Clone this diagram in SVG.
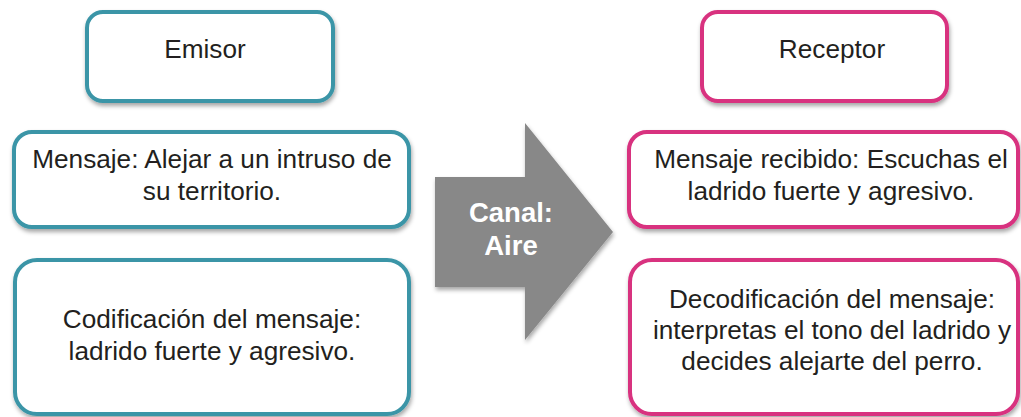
<svg xmlns="http://www.w3.org/2000/svg" width="1021" height="417" viewBox="0 0 1021 417">
<defs>
<filter id="sh" x="-10%" y="-10%" width="120%" height="130%">
<feDropShadow dx="1" dy="3" stdDeviation="2" flood-color="#000" flood-opacity="0.35"/>
</filter>
<style>
.box{fill:#fff;stroke-width:4;filter:url(#sh)}
.teal{stroke:#3A95A7}
.pink{stroke:#D8307F}
.t{font-family:"Liberation Sans",Arial,sans-serif;font-size:26.2px;fill:#231F20;text-anchor:middle}
.c{font-family:"Liberation Sans",Arial,sans-serif;font-size:27.5px;font-weight:bold;fill:#fff;text-anchor:middle}
</style>
</defs>
<rect width="1021" height="417" fill="#fff"/>
<g id="connectors">
<polygon points="435,177 525,177 525,123 613,232 525,340 525,287 435,287" fill="#888888" filter="url(#sh)"/>
<text class="c" x="511" y="222">Canal:</text>
<text class="c" x="511" y="255">Aire</text>
</g>
<g id="emisor">
<rect class="box teal" x="87" y="12" width="246" height="89" rx="16"/>
<text class="t" x="205" y="58">Emisor</text>
</g>
<g id="mensaje">
<rect class="box teal" x="14" y="132" width="395" height="95" rx="18"/>
<text class="t" x="212" y="168">Mensaje: Alejar a un intruso de</text>
<text class="t" x="212" y="200">su territorio.</text>
</g>
<g id="codificacion">
<rect class="box teal" x="15" y="260" width="394" height="154" rx="22"/>
<text class="t" x="212" y="328">Codificación del mensaje:</text>
<text class="t" x="212" y="360">ladrido fuerte y agresivo.</text>
</g>
<g id="receptor">
<rect class="box pink" x="702" y="12" width="245" height="89" rx="16"/>
<text class="t" x="832" y="58">Receptor</text>
</g>
<g id="recibido">
<rect class="box pink" x="629" y="132" width="389" height="95" rx="18"/>
<text class="t" x="831" y="168">Mensaje recibido: Escuchas el</text>
<text class="t" x="831" y="200">ladrido fuerte y agresivo.</text>
</g>
<g id="decodificacion">
<rect class="box pink" x="630" y="260" width="388" height="154" rx="22"/>
<text class="t" x="832" y="308">Decodificación del mensaje:</text>
<text class="t" x="832" y="339">interpretas el tono del ladrido y</text>
<text class="t" x="832" y="370">decides alejarte del perro.</text>
</g>
</svg>
